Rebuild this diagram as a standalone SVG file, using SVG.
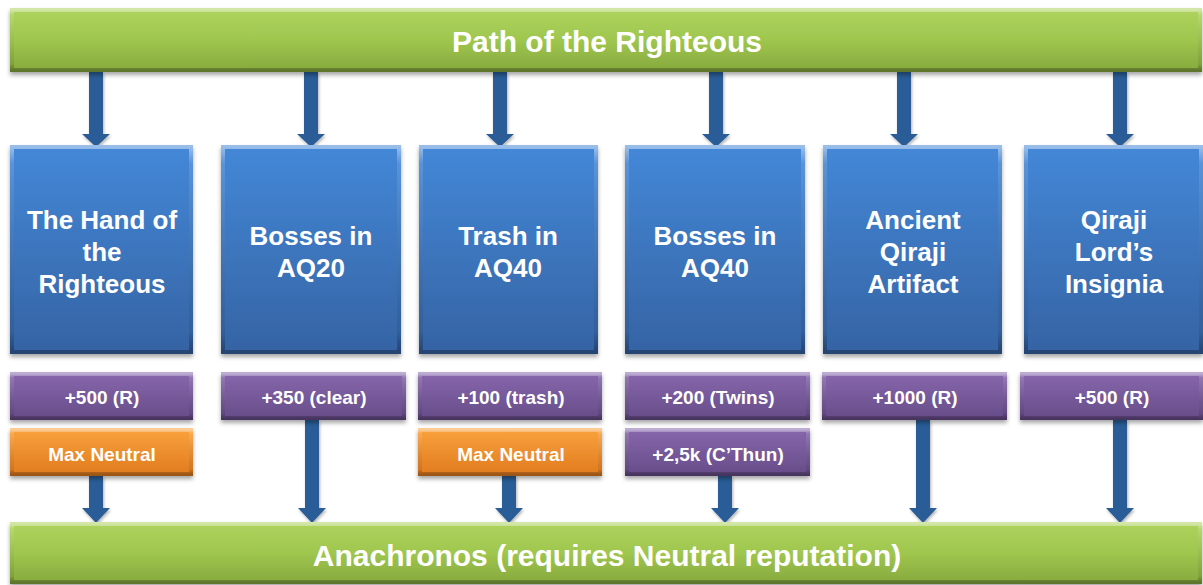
<svg xmlns="http://www.w3.org/2000/svg" width="1203" height="585" viewBox="0 0 1203 585">
<defs>
<linearGradient id="gGreen" x1="0" y1="0" x2="0" y2="1"><stop offset="0" stop-color="#afd45f"/><stop offset="0.5" stop-color="#9fc64e"/><stop offset="1" stop-color="#86a83d"/></linearGradient>
<linearGradient id="gBlue" x1="0" y1="0" x2="0" y2="1"><stop offset="0" stop-color="#4488d8"/><stop offset="1" stop-color="#3563a3"/></linearGradient>
<linearGradient id="gPurple" x1="0" y1="0" x2="0" y2="1"><stop offset="0" stop-color="#8868ad"/><stop offset="1" stop-color="#664b88"/></linearGradient>
<linearGradient id="gOrange" x1="0" y1="0" x2="0" y2="1"><stop offset="0" stop-color="#faa33e"/><stop offset="1" stop-color="#e07a1e"/></linearGradient>
<linearGradient id="gBevel" x1="0" y1="0" x2="0" y2="1"><stop offset="0" stop-color="#ffffff" stop-opacity="0.45"/><stop offset="0.08" stop-color="#ffffff" stop-opacity="0.12"/><stop offset="0.9" stop-color="#000000" stop-opacity="0.08"/><stop offset="1" stop-color="#000000" stop-opacity="0.3"/></linearGradient>
<filter id="shadow" x="-5%" y="-10%" width="110%" height="130%"><feDropShadow dx="0" dy="3" stdDeviation="2" flood-color="#000" flood-opacity="0.35"/></filter>
<filter id="ashadow" x="-30%" y="-10%" width="160%" height="130%"><feDropShadow dx="1" dy="2" stdDeviation="1.5" flood-color="#000" flood-opacity="0.3"/></filter>
</defs>
<style>
.green{fill:url(#gGreen);filter:url(#shadow)}
.blue{fill:url(#gBlue);filter:url(#shadow)}
.purple{fill:url(#gPurple);filter:url(#shadow)}
.orange{fill:url(#gOrange);filter:url(#shadow)}
.bevel{fill:none;stroke:url(#gBevel);stroke-width:4}
text{font-family:"Liberation Sans",Arial,sans-serif;font-weight:bold;fill:#ffffff;text-anchor:middle}
.big{font-size:30px}
.mid{font-size:26px}
.sm{font-size:19px}
.arrow{fill:#2b5d97;filter:url(#ashadow)}
</style>
<rect width="1203" height="585" fill="#ffffff"/>

<g id="connectors">
<polygon class="arrow" points="89,72 103,72 103,134 110,134 96,147 82,134 89,134"/>
<polygon class="arrow" points="304,72 318,72 318,134 325,134 311,147 297,134 304,134"/>
<polygon class="arrow" points="493,72 507,72 507,134 514,134 500,147 486,134 493,134"/>
<polygon class="arrow" points="709,72 723,72 723,134 730,134 716,147 702,134 709,134"/>
<polygon class="arrow" points="897,72 911,72 911,134 918,134 904,147 890,134 897,134"/>
<polygon class="arrow" points="1113,72 1127,72 1127,134 1134,134 1120,147 1106,134 1113,134"/>

<polygon class="arrow" points="89,476 103,476 103,508 110,508 96,523 82,508 89,508"/>
<polygon class="arrow" points="305,420 319,420 319,508 326,508 312,523 298,508 305,508"/>
<polygon class="arrow" points="502,476 516,476 516,508 523,508 509,523 495,508 502,508"/>
<polygon class="arrow" points="718,476 732,476 732,508 739,508 725,523 711,508 718,508"/>
<polygon class="arrow" points="916,420 930,420 930,508 937,508 923,523 909,508 916,508"/>
<polygon class="arrow" points="1113,420 1127,420 1127,508 1134,508 1120,523 1106,508 1113,508"/>
</g>

<g id="path-righteous">
<rect class="green" x="10" y="8" width="1192" height="64"/>
<rect class="bevel" x="12" y="10" width="1188" height="60"/>
<text class="big" x="607" y="52">Path of the Righteous</text>
</g>

<g id="hand-righteous">
<rect class="blue" x="10" y="145" width="183" height="209"/>
<rect class="bevel" x="12" y="147" width="179" height="205"/>
<text class="mid" x="102" y="229">The Hand of</text>
<text class="mid" x="102" y="261">the</text>
<text class="mid" x="102" y="293">Righteous</text>
</g>

<g id="bosses-aq20">
<rect class="blue" x="221" y="145" width="180" height="209"/>
<rect class="bevel" x="223" y="147" width="176" height="205"/>
<text class="mid" x="311" y="245">Bosses in</text>
<text class="mid" x="311" y="277">AQ20</text>
</g>

<g id="trash-aq40">
<rect class="blue" x="419" y="145" width="179" height="209"/>
<rect class="bevel" x="421" y="147" width="175" height="205"/>
<text class="mid" x="508" y="245">Trash in</text>
<text class="mid" x="508" y="277">AQ40</text>
</g>

<g id="bosses-aq40">
<rect class="blue" x="625" y="145" width="180" height="209"/>
<rect class="bevel" x="627" y="147" width="176" height="205"/>
<text class="mid" x="715" y="245">Bosses in</text>
<text class="mid" x="715" y="277">AQ40</text>
</g>

<g id="ancient-artifact">
<rect class="blue" x="823" y="145" width="179" height="209"/>
<rect class="bevel" x="825" y="147" width="175" height="205"/>
<text class="mid" x="913" y="229">Ancient</text>
<text class="mid" x="913" y="261">Qiraji</text>
<text class="mid" x="913" y="293">Artifact</text>
</g>

<g id="lords-insignia">
<rect class="blue" x="1024" y="145" width="179" height="209"/>
<rect class="bevel" x="1026" y="147" width="175" height="205"/>
<text class="mid" x="1114" y="229">Qiraji</text>
<text class="mid" x="1114" y="261">Lord’s</text>
<text class="mid" x="1114" y="293">Insignia</text>
</g>

<g id="rep-500-hand">
<rect class="purple" x="10" y="372" width="183" height="48"/>
<rect class="bevel" x="12" y="374" width="179" height="44"/>
<text class="sm" x="102" y="404">+500 (R)</text>
</g>

<g id="rep-350">
<rect class="purple" x="221" y="372" width="185" height="48"/>
<rect class="bevel" x="223" y="374" width="181" height="44"/>
<text class="sm" x="314" y="404">+350 (clear)</text>
</g>

<g id="rep-100">
<rect class="purple" x="418" y="372" width="184" height="48"/>
<rect class="bevel" x="420" y="374" width="180" height="44"/>
<text class="sm" x="511" y="404">+100 (trash)</text>
</g>

<g id="rep-200">
<rect class="purple" x="625" y="372" width="185" height="48"/>
<rect class="bevel" x="627" y="374" width="181" height="44"/>
<text class="sm" x="718" y="404">+200 (Twins)</text>
</g>

<g id="rep-1000">
<rect class="purple" x="822" y="372" width="185" height="48"/>
<rect class="bevel" x="824" y="374" width="181" height="44"/>
<text class="sm" x="915" y="404">+1000 (R)</text>
</g>

<g id="rep-500-insignia">
<rect class="purple" x="1020" y="372" width="183" height="48"/>
<rect class="bevel" x="1022" y="374" width="179" height="44"/>
<text class="sm" x="1112" y="404">+500 (R)</text>
</g>

<g id="max-neutral-1">
<rect class="orange" x="10" y="428" width="183" height="48"/>
<rect class="bevel" x="12" y="430" width="179" height="44"/>
<text class="sm" x="102" y="461">Max Neutral</text>
</g>

<g id="max-neutral-2">
<rect class="orange" x="418" y="428" width="184" height="48"/>
<rect class="bevel" x="420" y="430" width="180" height="44"/>
<text class="sm" x="511" y="461">Max Neutral</text>
</g>

<g id="rep-cthun">
<rect class="purple" x="625" y="428" width="185" height="48"/>
<rect class="bevel" x="627" y="430" width="181" height="44"/>
<text class="sm" x="718" y="461">+2,5k (C’Thun)</text>
</g>

<g id="anachronos">
<rect class="green" x="10" y="522" width="1192" height="62"/>
<rect class="bevel" x="12" y="524" width="1188" height="58"/>
<text class="big" x="607" y="566">Anachronos (requires Neutral reputation)</text>
</g>
</svg>
